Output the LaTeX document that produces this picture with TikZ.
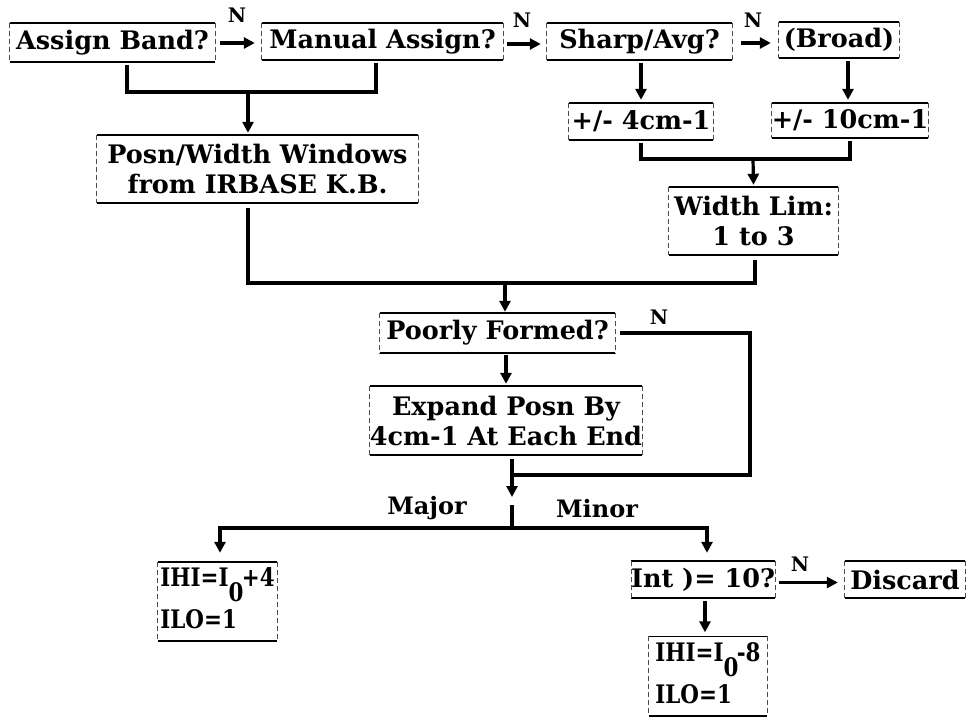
\documentclass[tikz,border=0pt]{standalone}
\usepackage{fontspec}
\setmainfont{DejaVu Serif}
\usetikzlibrary{arrows.meta,calc}
\tikzset{
  bx/.style 2 args={inner sep=0pt, minimum width=#1pt, minimum height=#2pt,
    font=\fontsize{25.5}{30}\selectfont\bfseries},
  lbl/.style={font=\fontsize{20}{24}\selectfont\bfseries, inner sep=0pt},
  blbl/.style={font=\fontsize{24}{28}\selectfont\bfseries, inner sep=0pt},
  conn/.style={line width=3.2pt},
  arr/.style={conn, -{Triangle[length=11pt,width=11pt]}},
  topbot/.style={line width=1.6pt},
  sides/.style={line width=0.7pt, dash pattern=on 5pt off 3pt, black!70},
}
\newcommand\boxedges[1]{%
  \draw[topbot] (#1.north west) -- (#1.north east);
  \draw[topbot] (#1.south west) -- (#1.south east);
  \draw[sides] (#1.north west) -- (#1.south west);
  \draw[sides] (#1.north east) -- (#1.south east);}
\newcommand\hilo[1]{\scalebox{0.84}[1]{\begin{tabular}{@{}l@{}}IHI=I\raisebox{-0.6em}{0}\kern-2pt#1\\[12pt]ILO=1\end{tabular}}}
\begin{document}
\begin{tikzpicture}[x=1pt,y=-1pt]
\useasboundingbox (0,0) rectangle (966,718);
% boxes
\node[bx={205}{39}] (A) at (112.5,42.5) {Assign Band?};
\node[bx={241}{37}] (M) at (382.5,41.5) {Manual Assign?};
\node[bx={185}{37}] (S) at (639.5,41.5) {Sharp/Avg?};
\node[bx={120}{36}] (B) at (839,40) {(Broad)};
\node[bx={144}{37}] (P4) at (641,121.5) {+/- 4cm-1};
\node[bx={156}{35}] (P10) at (850,120.5) {+/- 10cm-1};
\node[bx={169}{68}, align=center] (W) at (753.5,221) {Width Lim:\\1 to 3};
\node[bx={321}{68}, align=center] (PW) at (257.5,169) {Posn/Width Windows\\from IRBASE K.B.};
\node[bx={235}{40}] (PF) at (497.5,333) {Poorly Formed?};
\node[bx={268}{69}, align=center] (E) at (506,420.5) {Expand Posn By\\4cm-1 At Each End};
\node[bx={119}{79}] (H1) at (217.5,601.5) {\hilo{+4}};
\node[bx={138}{37}] (I) at (703,579.5) {Int )= 10?};
\node[bx={120}{37}] (D) at (905,579.5) {Discard};
\node[bx={118}{79}] (H2) at (708,676) {\hilo{-8}};
\foreach \n in {A,M,S,B,P4,P10,W,PW,PF,E,H1,I,D,H2} {\boxedges{\n}}
% labels
\node[lbl] (n1) at (237,15) {N};
\node[lbl] (n2) at (522,20) {N};
\node[lbl] (n3) at (753,20) {N};
\node[lbl] (n4) at (659,317) {N};
\node[lbl] (n5) at (800,564) {N};
\node[blbl] (maj) at (427,508) {Major};
\node[blbl] (min) at (597,509) {Minor};
% coordinates
\coordinate (m0) at (248,92);
\coordinate (m1) at (753,159);
\coordinate (m2) at (505,283);
\coordinate (loopc) at (750,333);
\coordinate (j) at (512,475);
\coordinate (jt) at (512,497);
\coordinate (js) at (512,505);
\coordinate (split) at (512,528);
% top row arrows
\draw[arr] ([xshift=5pt]A.east |- 0,43) -- ([xshift=-7pt]M.west |- 0,43);
\draw[arr] ([xshift=4pt]M.east |- 0,44) -- ([xshift=-6pt]S.west |- 0,44);
\draw[arr] ([xshift=9pt]S.east |- 0,43) -- ([xshift=-8pt]B.west |- 0,43);
% merge A/M -> PW
\draw[conn] ([xshift=14.5pt,yshift=-3pt]A.south) |- (m0) -| ([xshift=-6.5pt,yshift=-3pt]M.south);
\draw[arr] (m0) -- ([yshift=2pt]m0 |- PW.north);
% S -> P4, B -> P10
\draw[arr] ([yshift=-3pt]P4.north |- S.south) -- ([yshift=3pt]P4.north);
\draw[arr] ([xshift=-2pt,yshift=-3pt]P10.north |- B.south) -- ([xshift=-2pt,yshift=3pt]P10.north);
% merge P4/P10 -> W
\draw[conn] ([yshift=-3pt]P4.south) |- (m1) -| ([yshift=-3pt]P10.south);
\draw[arr] (m1) -- ([yshift=2pt]W.north);
% PW, W -> PF
\draw[conn] ([xshift=-9.5pt,yshift=-5pt]PW.south) |- (m2) -| ([xshift=1.5pt,yshift=-5pt]W.south);
\draw[arr] (m2) -- ([yshift=1pt]m2 |- PF.north);
% PF -> E
\draw[arr] ([yshift=-2pt]E.north |- PF.south) -- ([yshift=2pt]E.north);
% N loop
\draw[conn] ([xshift=5pt]PF.east) -- (loopc) |- (j);
% E -> junction
\draw[arr] ([xshift=6pt,yshift=-4pt]E.south) -- (jt);
\draw[conn] (js) -- (split);
% split
\draw[arr] (split) -| ([xshift=2.5pt,yshift=9pt]H1.north);
\draw[arr] (split) -| ([xshift=4pt,yshift=8pt]I.north);
% Int -> Discard, Int -> H2
\draw[arr] ([xshift=4pt,yshift=-3pt]I.east) -- ([xshift=-7pt,yshift=-3pt]D.west);
\draw[arr] ([xshift=2pt,yshift=-3pt]I.south) -- ([xshift=-3pt,yshift=4pt]H2.north);
\end{tikzpicture}
\end{document}
